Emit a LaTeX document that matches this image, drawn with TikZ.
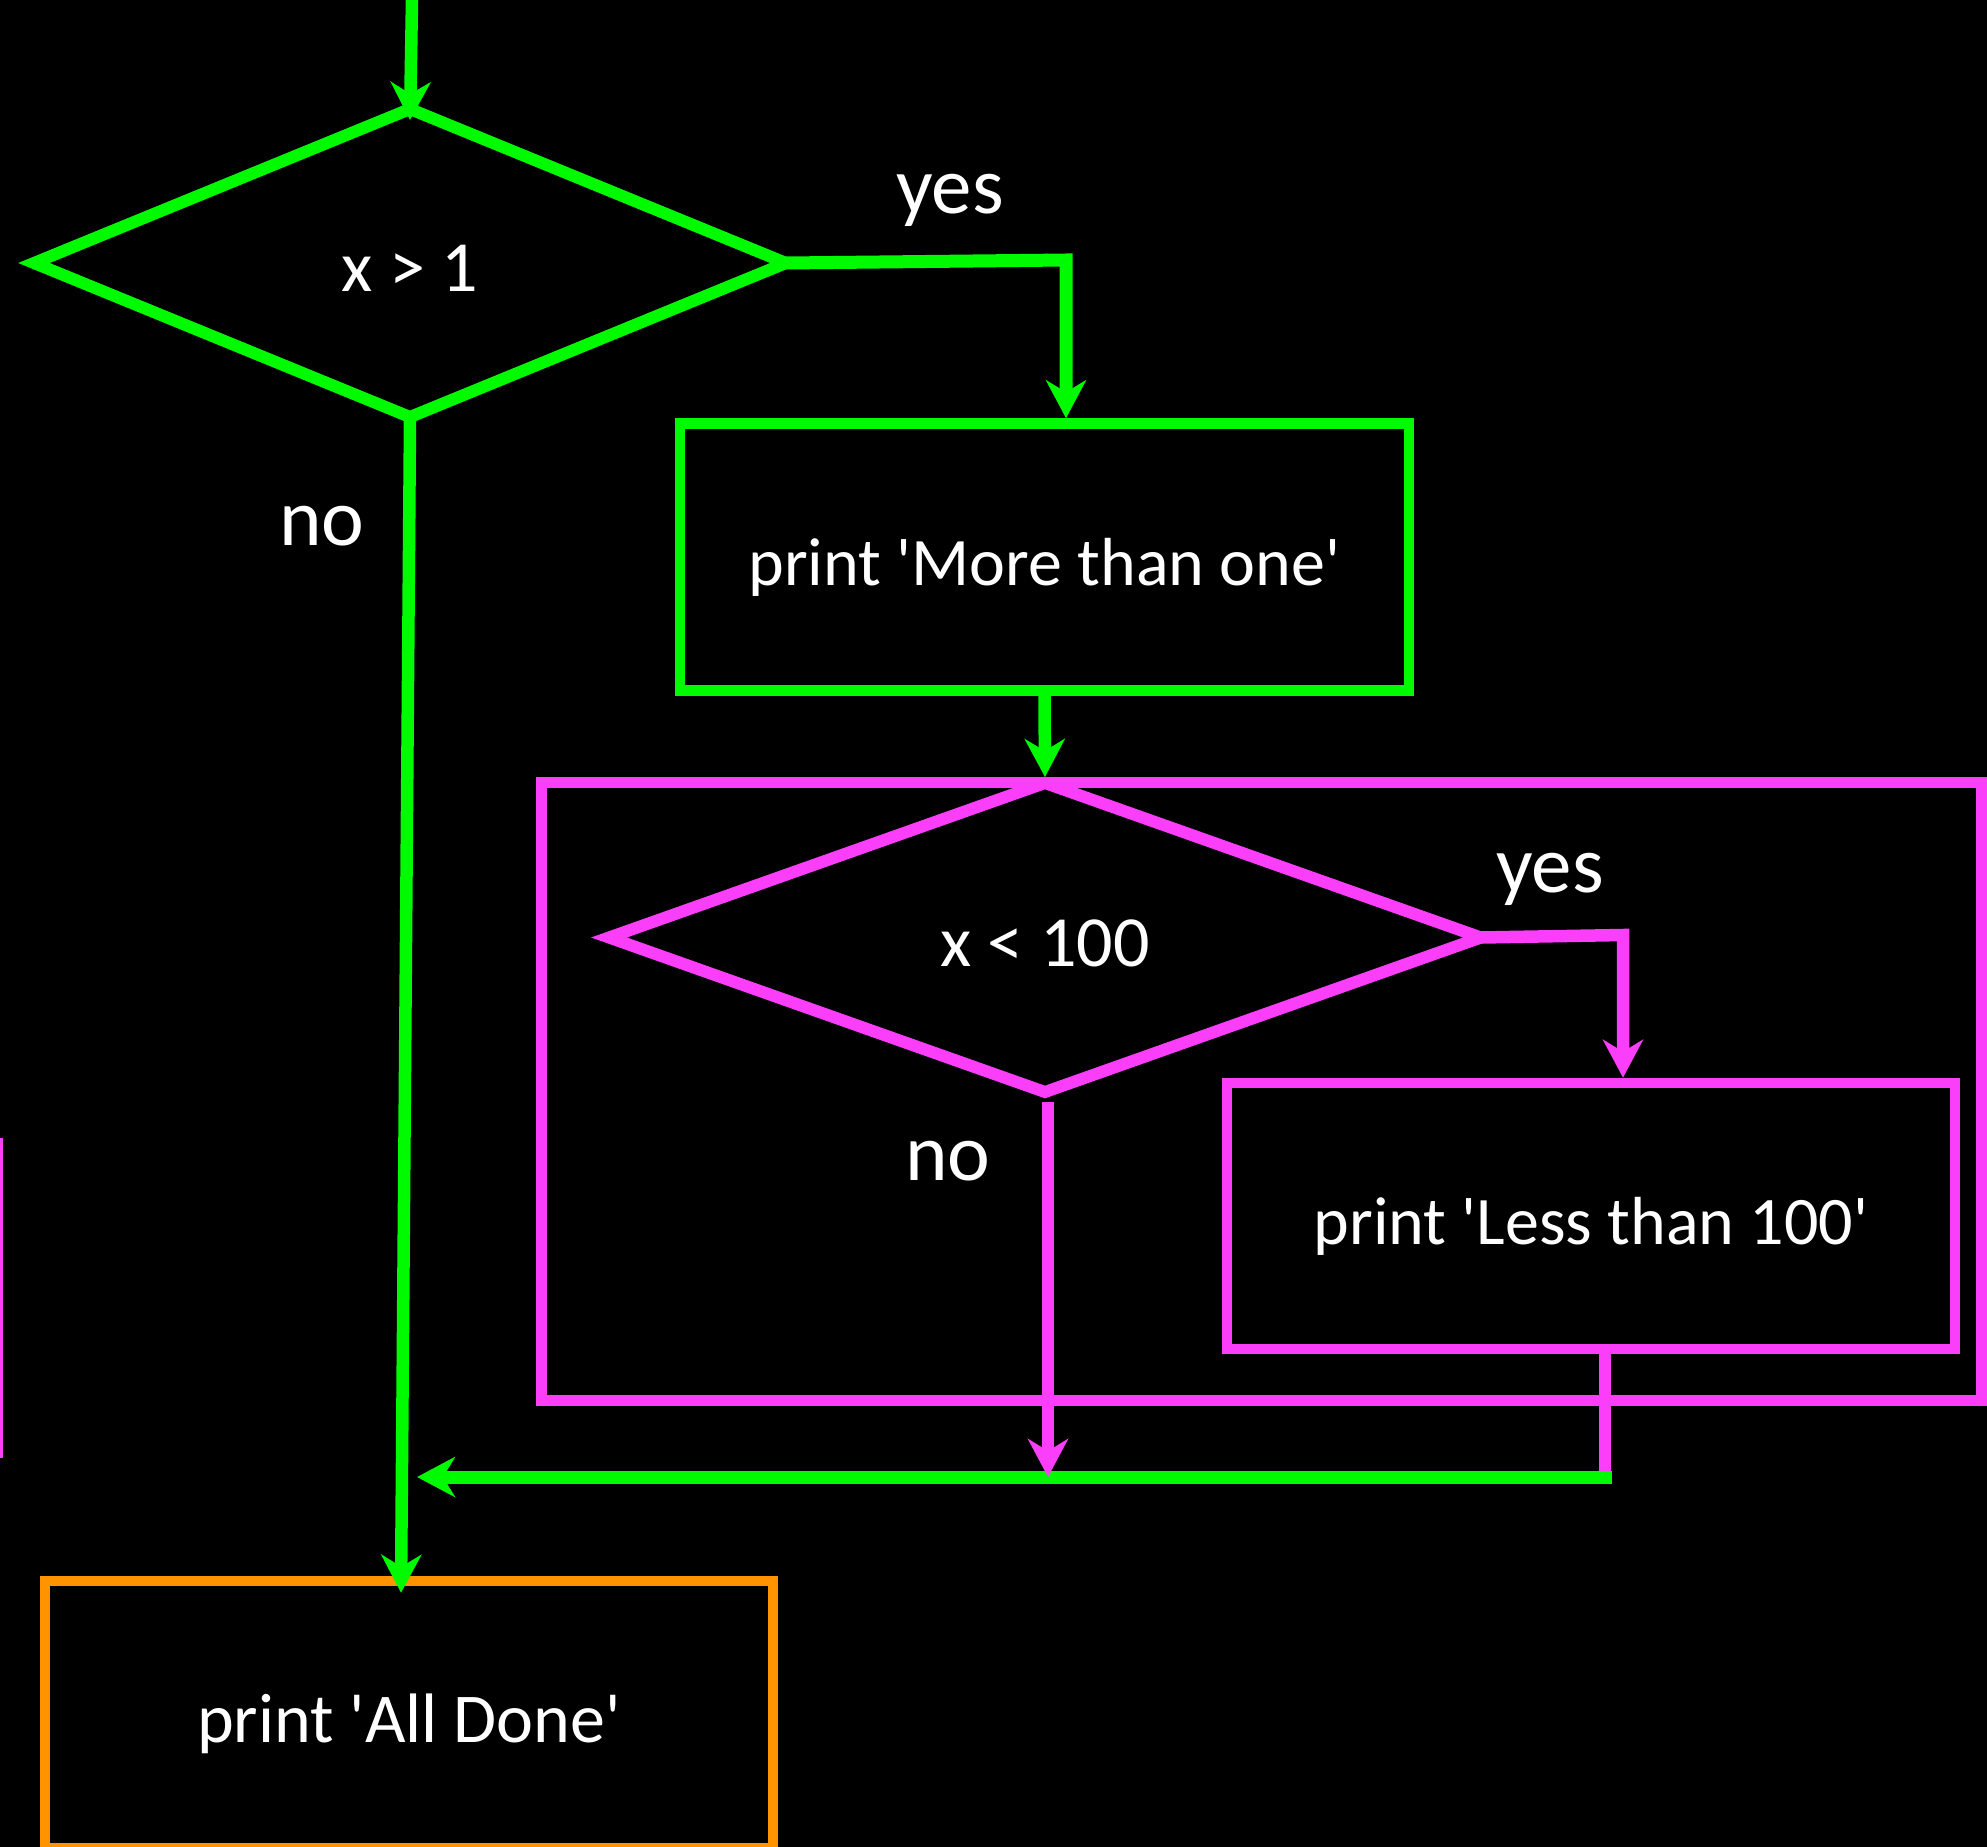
\documentclass[tikz,border=0pt]{standalone}
\usepackage{fontspec}
\setmainfont{Carlito}
\usetikzlibrary{shapes.geometric,arrows.meta,calc}
\definecolor{fgreen}{RGB}{0,250,0}
\definecolor{fmag}{RGB}{250,62,250}
\definecolor{forange}{RGB}{255,147,0}
\newcommand{\sq}{\textquotesingle}
\begin{document}
\begin{tikzpicture}[x=1pt,y=-1pt,
  boxtext/.style={text=white,font=\fontsize{68}{80}\selectfont},
  lbl/.style={text=white,font=\fontsize{81}{95}\selectfont,anchor=base,inner sep=0pt},
  decision/.style={diamond,draw,line width=12pt,inner sep=0pt,outer sep=0pt,text height=57pt,text depth=0pt,
    text=white,font=\fontsize{72}{84}\selectfont},
  stepbox/.style={rectangle,draw,line width=10.5pt,minimum width=728pt,minimum height=267pt,
    inner sep=0pt,text height=56pt,text depth=0pt,boxtext},
  tipa/.style={-{Stealth[length=38pt,width=40pt,inset=12pt]}},
  gconn/.style={draw=fgreen,line width=12.5pt,tipa},
  mconn/.style={draw=fmag,line width=12.5pt,tipa}]
\fill[black] (0,0) rectangle (1987,1847);
\useasboundingbox (0,0) rectangle (1987,1847);

% outer magenta frame
\node[rectangle,draw=fmag,line width=11pt,minimum width=1440pt,minimum height=618pt,inner sep=0pt] (m) at (1261,1091) {};

% nodes
\node[decision,draw=fgreen,minimum width=752pt,minimum height=308pt] (d1) at (410,263) {x > 1};
\node[stepbox,draw=fgreen,minimum width=729pt] (b1) at (1044.5,557) {print \sq More than one\sq};
\node[decision,draw=fmag,minimum width=872pt,minimum height=309pt] (d2) at (1045,937.5) {x < 100};
\node[stepbox,draw=fmag,minimum height=266pt] (b2) at (1591,1216) {print \sq Less than 100\sq};
\node[stepbox,draw=forange,font=\fontsize{70}{82}\selectfont] (ob) at (409,1714.5) {print \sq All Done\sq};

% labels
\node[lbl] (yes1) at (950,213) {yes};
\node[lbl] (no1) at (322,545) {no};
\node[lbl] (yes2) at (1550,892) {yes};
\node[lbl] (no2) at (948,1180) {no};

% coordinates
\coordinate (top) at (412,0);
\coordinate (c1) at (1066,260);
\coordinate (c2) at (1623,935);
\coordinate (j1) at (1048,1477);
\coordinate (j2) at (1605,1477);
\coordinate (jl) at (417,1477);

% connectors
\draw[gconn] (top) -- ([yshift=-11pt]d1.north);
\draw[gconn,line width=13pt] (d1.east) -- (c1) -- (c1 |- b1.north);
\draw[gconn] (b1.south) -- ([yshift=6pt]d2.north);
\draw[mconn] (d2.east) -- (c2) -- (c2 |- b2.north);
\draw[gconn] ([yshift=-3pt]d1.south) -- ([xshift=-8pt,yshift=-17pt]ob.north);
\draw[draw=fmag,line width=12pt] (j2 |- b2.south) -- (j2);
\draw[gconn,line width=13pt] ([xshift=7pt]j2) -- (jl);
\draw[mconn] ($(d2.south)+(3,10)$) -- (j1);

% stray mark at the left edge
\draw[fmag,line width=3pt] (1.5,1138) -- (1.5,1458);
\end{tikzpicture}
\end{document}
